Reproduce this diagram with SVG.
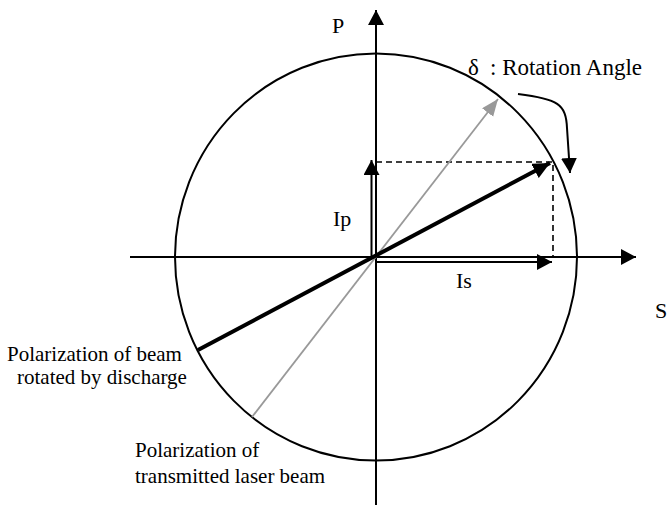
<svg xmlns="http://www.w3.org/2000/svg" width="667" height="511" viewBox="0 0 667 511">
<style>
.t{font-family:"Liberation Serif","Times New Roman",serif;font-size:22px;fill:#000}
.s{font-size:21px}
.big{font-size:23px}
.ax{stroke:#000;stroke-width:2;fill:none}
.dash{stroke:#000;stroke-width:1.6;stroke-dasharray:6,4;fill:none}
</style>
<defs>
<marker id="ah" markerUnits="userSpaceOnUse" markerWidth="16" markerHeight="16" refX="15" refY="8" orient="auto">
<path d="M0,0 L15,8 L0,16 z" fill="#000"/>
</marker>
<marker id="ahg" markerUnits="userSpaceOnUse" markerWidth="18" markerHeight="16" refX="17" refY="7" orient="auto">
<path d="M0,0 L17,7 L0,14 z" fill="#999"/>
</marker>
<marker id="ahb" markerUnits="userSpaceOnUse" markerWidth="18" markerHeight="16" refX="17" refY="8" orient="auto">
<path d="M0,0 L17,8 L0,16 z" fill="#000"/>
</marker>
</defs>
<g id="circle"><ellipse cx="376" cy="257" rx="201" ry="203.5" class="ax"/></g>
<g id="connectors">
<line id="axis-s" x1="130" y1="257" x2="636" y2="257" class="ax" marker-end="url(#ah)"/>
<line id="axis-p" x1="376" y1="505" x2="376" y2="10" class="ax" marker-end="url(#ah)"/>
<path id="dash" d="M376,162 H553 V257" class="dash"/>
<line id="ip" x1="371.5" y1="257" x2="371.5" y2="160" class="ax" marker-end="url(#ah)"/>
<line id="is" x1="376" y1="262" x2="552" y2="262" class="ax" marker-end="url(#ah)"/>
<line id="gray" x1="252" y1="417" x2="498" y2="99" stroke="#999" stroke-width="1.8" marker-end="url(#ahg)"/>
<line id="thick" x1="198" y1="350" x2="550" y2="163" stroke="#000" stroke-width="4" marker-end="url(#ahb)"/>
<path id="curve" d="M518,94 C558,99 566,104 567,128 L570,173" stroke="#000" stroke-width="2" fill="none" marker-end="url(#ah)"/>
</g>
<g id="labels">
<text class="t" x="332" y="33">P</text>
<text class="t" x="655" y="318">S</text>
<text class="t" x="333" y="226">Ip</text>
<text class="t" x="456" y="288">Is</text>
<text class="t big" x="468" y="75">δ<tspan x="490">: Rotation Angle</tspan></text>
<text class="t s" x="7" y="361">Polarization of beam</text>
<text class="t s" x="17" y="384">rotated by discharge</text>
<text class="t s" x="135" y="457">Polarization of</text>
<text class="t s" x="135" y="483">transmitted laser beam</text>
</g>
</svg>
